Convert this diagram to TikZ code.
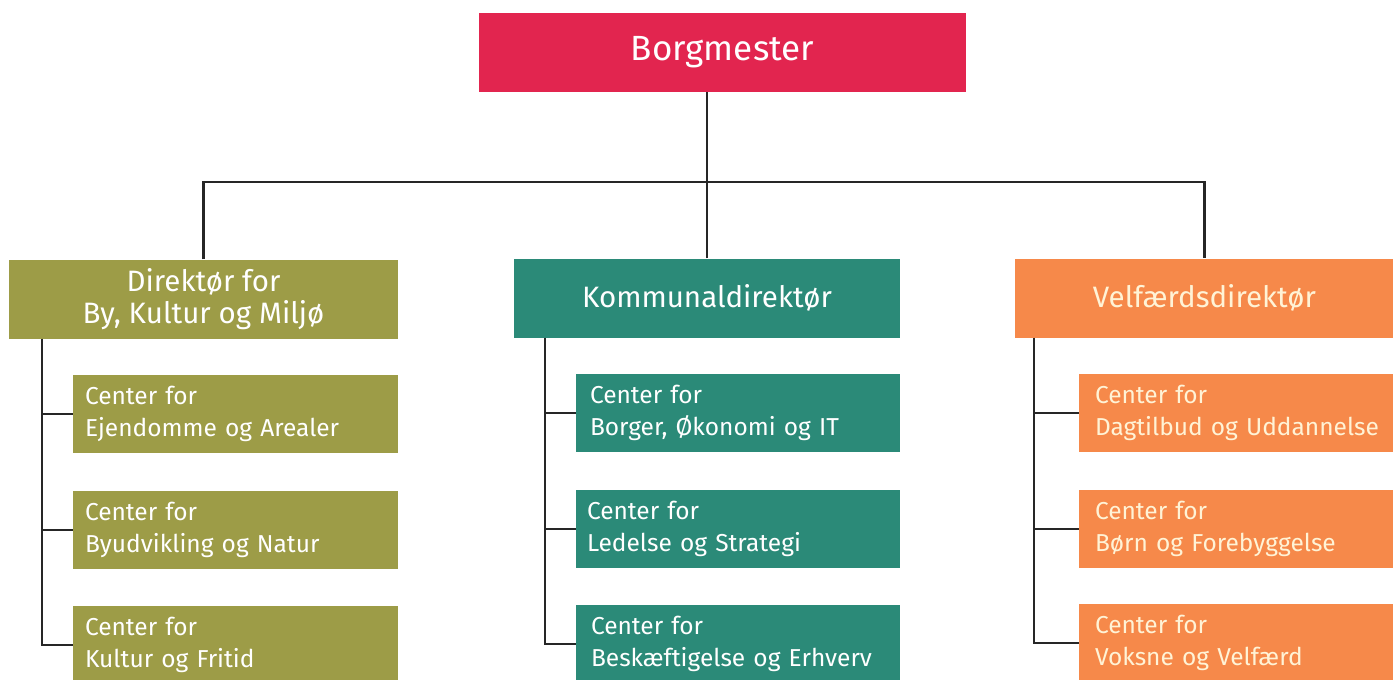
\documentclass[tikz,border=0pt]{standalone}
\usepackage{fontspec}
\setmainfont{Fira Sans}
\definecolor{borgred}{HTML}{E2254F}
\definecolor{olive}{HTML}{9D9C47}
\definecolor{teal}{HTML}{2B8A78}
\definecolor{orange}{HTML}{F6894A}
\definecolor{cream}{HTML}{FFF3D6}
\tikzset{
  box/.style={rectangle, inner sep=0pt, text=white},
  topbox/.style={box, fill=borgred, minimum width=487pt, minimum height=79pt, font=\fontsize{35}{38}\selectfont},
  dirbox/.style={box, minimum height=79pt, align=center, font=\fontsize{29.5}{32}\selectfont},
  centerbox/.style n args={2}{box, minimum width=#1, minimum height=78pt, align=left, inner xsep=#2,
    text width=#1-2*#2, font=\fontsize{24.5}{32}\selectfont},
  link/.style={line width=2.4pt, black!85}
}
\begin{document}
\begin{tikzpicture}[x=1pt, y=-1pt]
            \useasboundingbox (0,0) rectangle (1393,680);
            \clip (0,0) rectangle (1393,680);
            % top level
            \node[topbox] (borg) at (722.5, 52.5) {Borgmester};

            % directors
            \node[dirbox, fill=olive, minimum width=389pt] (byk) at (203.5, 299) {Direktør for\\By, Kultur og Miljø};
            \node[dirbox, fill=teal, minimum width=386pt] (kom) at (707, 298) {Kommunaldirektør};
            \node[dirbox, fill=orange, text=cream, minimum width=379pt] (vel) at (1204.5, 298) {Velfærdsdirektør};

            % centers under By, Kultur og Miljø
            \node[centerbox={325pt}{12pt}, fill=olive] (byk1) at (235.5, 414) {Center for\\Ejendomme og Arealer};
            \node[centerbox={325pt}{12pt}, fill=olive] (byk2) at (235.5, 530) {Center for\\Byudvikling og Natur};
            \node[centerbox={325pt}{12pt}, fill=olive] (byk3) at (235.5, 645) {Center for\\Kultur og Fritid};

            % centers under Kommunaldirektør
            \node[centerbox={324pt}{14pt}, fill=teal] (kom1) at (738, 413) {Center for\\Borger, Økonomi og IT};
            \node[centerbox={324pt}{11pt}, fill=teal] (kom2) at (738, 529) {Center for\\Ledelse og Strategi};
            \node[centerbox={324pt}{15pt}, fill=teal] (kom3) at (738, 644) {Center for\\Beskæftigelse og Erhverv};

            % centers under Velfærdsdirektør (running off the right edge)
            \node[centerbox={340pt}{16pt}, fill=orange, text=cream] (vel1) at (1249, 413) {Center for\\Dagtilbud og Uddannelse};
            \node[centerbox={340pt}{16pt}, fill=orange, text=cream] (vel2) at (1249, 529) {Center for\\Børn og Forebyggelse};
            \node[centerbox={340pt}{16pt}, fill=orange, text=cream] (vel3) at (1249, 643) {Center for\\Voksne og Velfærd};

            % connectors from the top
            \coordinate (hub) at (708, 182);
            \draw[link] (kom.north) -- (kom.north |- borg.south);
            \draw[link] (byk.north) |- (hub) -| (vel.north);

            % bus lines down the left of each column
            \coordinate (bykbus) at (42, 338.5);
            \coordinate (kombus) at (545, 337.5);
            \coordinate (velbus) at (1034, 337.5);
            \draw[link] (bykbus) |- (byk3.west);
            \draw[link] (bykbus |- byk1.west) -- (byk1.west);
            \draw[link] (bykbus |- byk2.west) -- (byk2.west);
            \draw[link] (kombus) |- (kom3.west);
            \draw[link] (kombus |- kom1.west) -- (kom1.west);
            \draw[link] (kombus |- kom2.west) -- (kom2.west);
            \draw[link] (velbus) |- (vel3.west);
            \draw[link] (velbus |- vel1.west) -- (vel1.west);
            \draw[link] (velbus |- vel2.west) -- (vel2.west);
        \end{tikzpicture}
\end{document}
